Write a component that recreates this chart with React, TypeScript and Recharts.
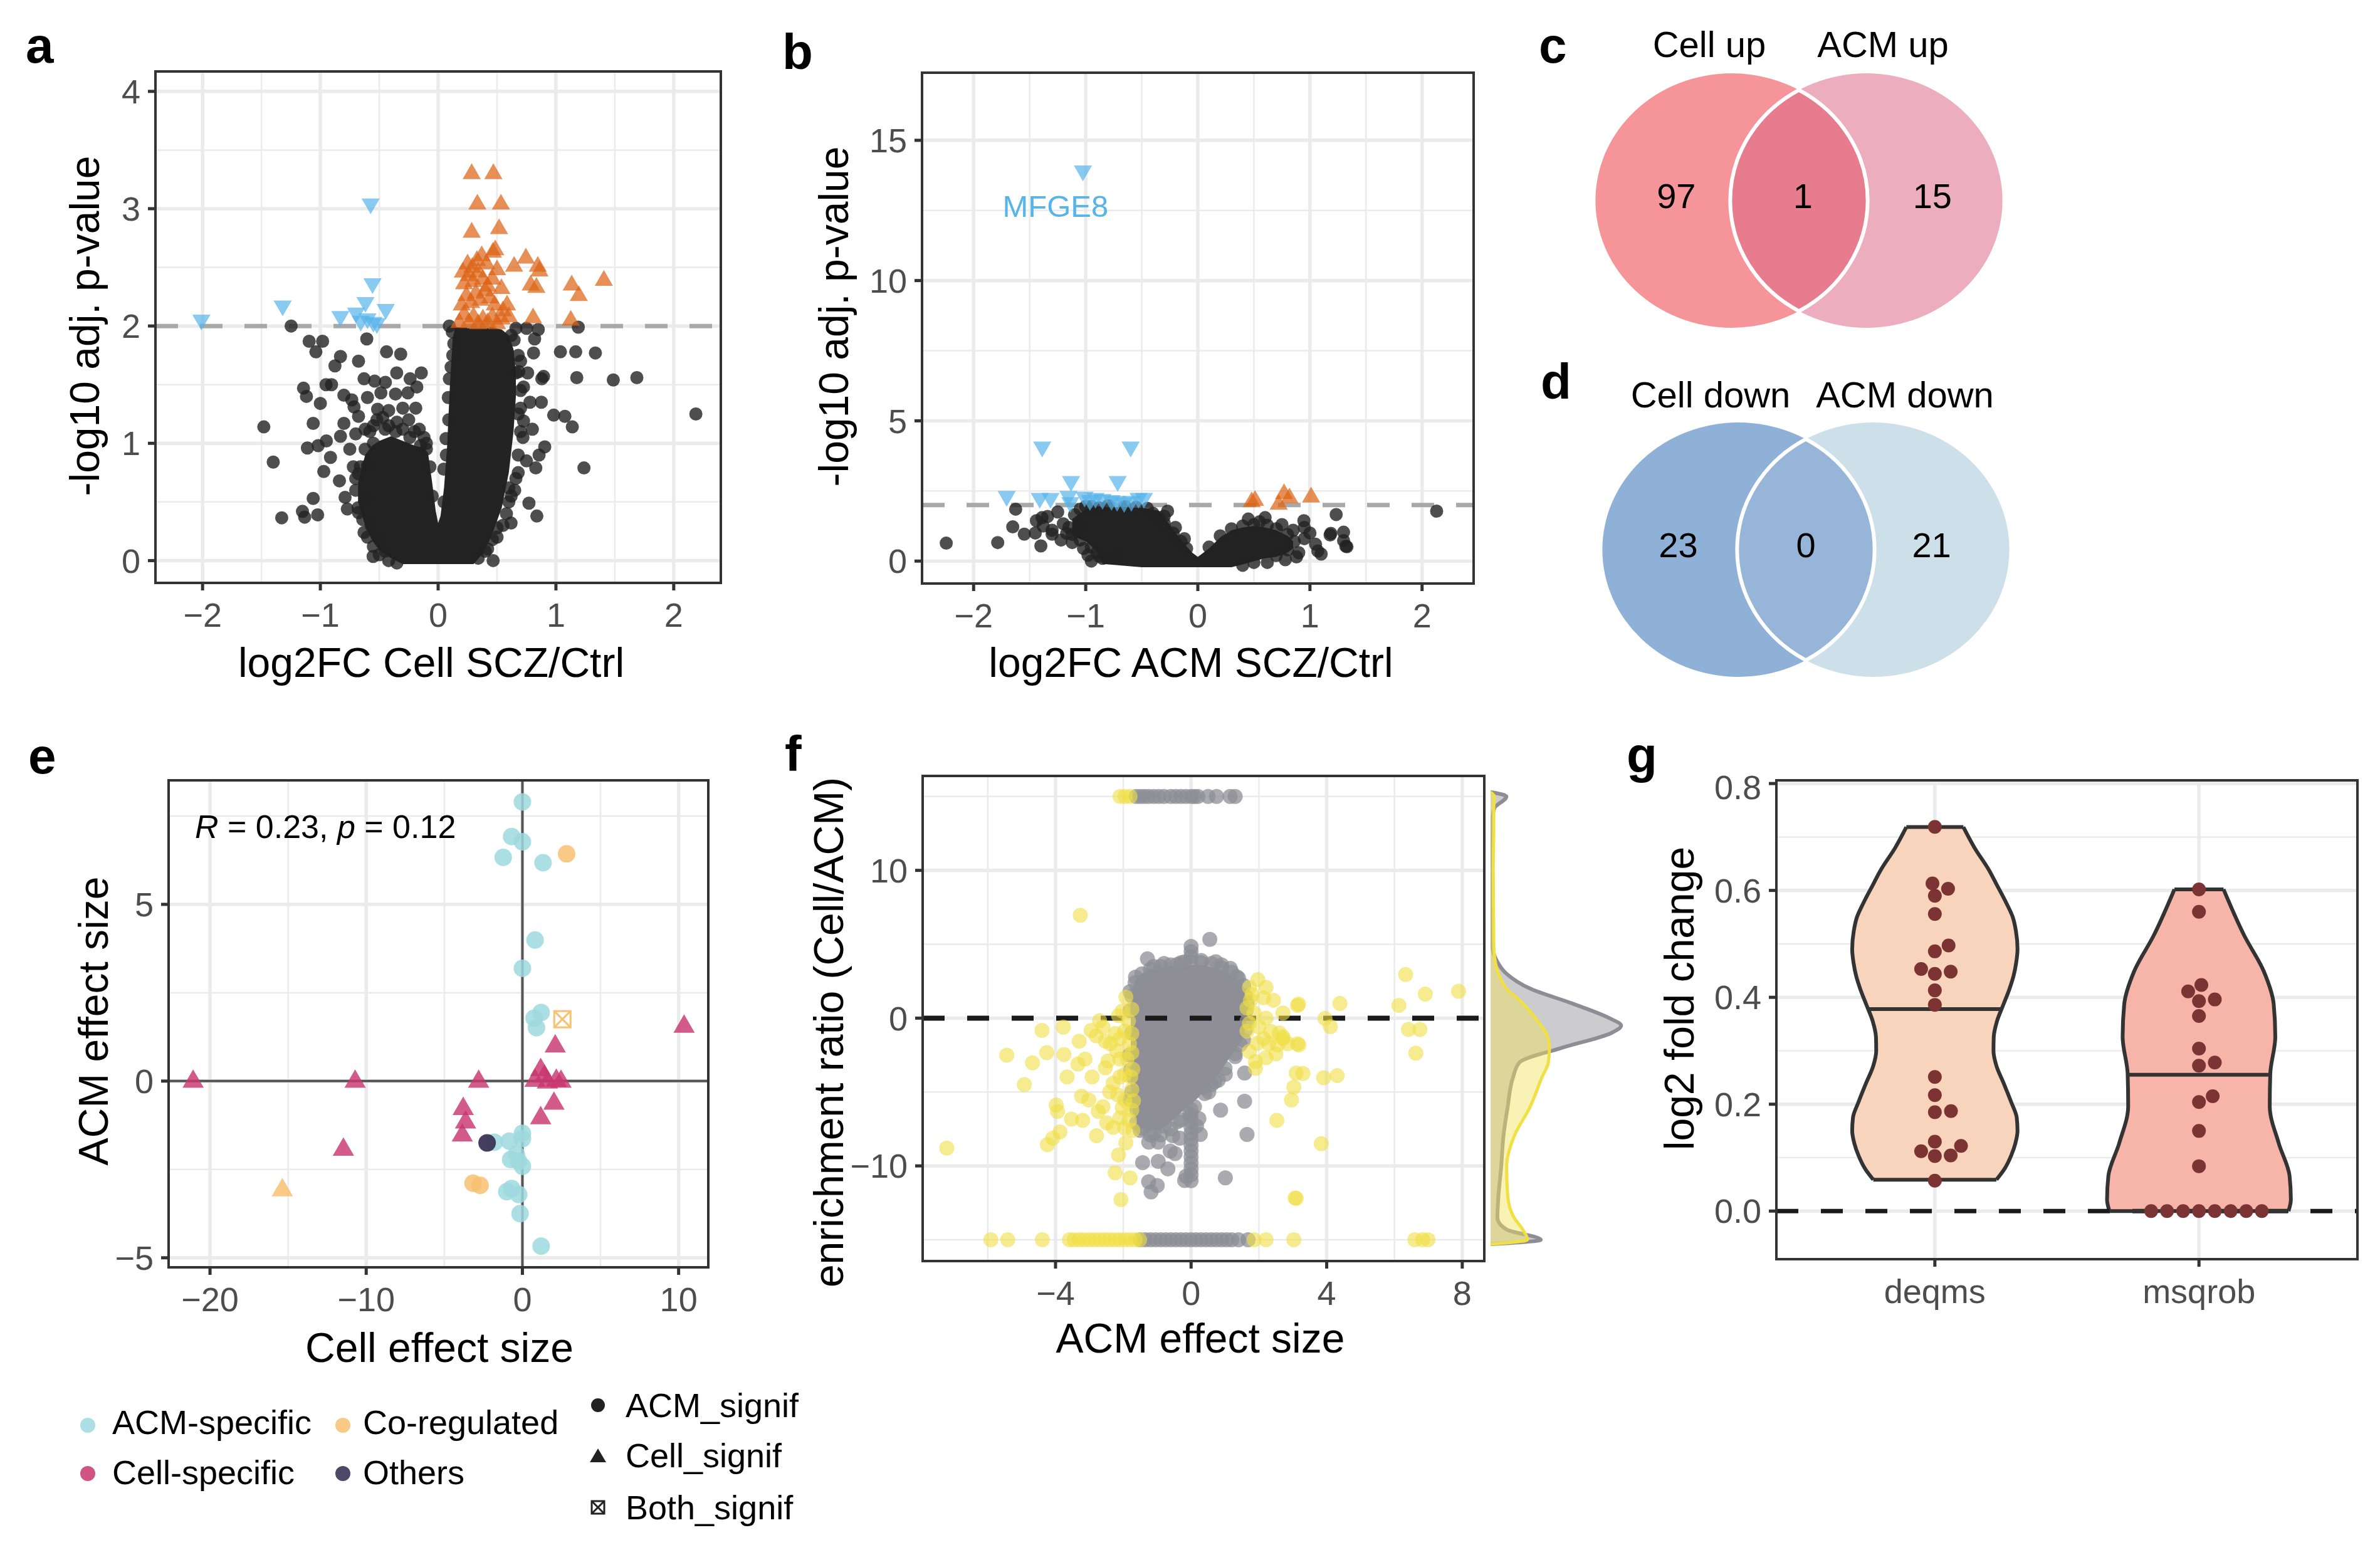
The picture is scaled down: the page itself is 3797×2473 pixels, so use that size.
import React from 'react';
import {
  ComposedChart, ScatterChart, Area, Scatter, XAxis, YAxis, CartesianGrid, ReferenceLine,
} from 'recharts';

const FONT = '"Liberation Sans", Arial, Helvetica, sans-serif';
const GRID = '#EBEBEB';
const ORANGE = '#DD6416';
const BLUE = '#56B4E9';
const CYAN = '#9ED9DE';
const PEACH = '#F7C171';
const MAGENTA = '#C8376F';
const OTHERS = '#3B3457';
const GRAY = '#8E8D95';
const YELLOW = '#F0E044';

// ---------- panel a: log2FC Cell SCZ/Ctrl ----------
// dense centre of the volcano, read as [x, low, high]
const aCore = [
  [-0.68, 0.5, 0.66], [-0.62, 0.3, 0.9], [-0.56, 0.17, 0.98], [-0.5, 0.09, 1.02], [-0.4, 0.02, 1.06],
  [-0.3, -0.03, 1.02], [-0.2, -0.03, 0.98], [-0.12, -0.03, 0.96], [-0.086, -0.03, 0.92], [-0.05, -0.03, 0.66],
  [-0.02, -0.03, 0.42], [0, -0.03, 0.32], [0.02, -0.03, 0.38], [0.05, -0.03, 0.62], [0.076, -0.03, 0.97],
  [0.1, -0.03, 1.5], [0.124, -0.03, 1.9], [0.145, -0.03, 1.99], [0.3, -0.03, 1.99], [0.38, 0.06, 1.99],
  [0.45, 0.2, 1.99], [0.54, 0.45, 1.97], [0.6, 0.75, 1.92], [0.64, 1.1, 1.8], [0.66, 1.4, 1.6],
];
const aBlack = [
  [-1.248, 2.0], [-1.095, 1.87], [-0.981, 1.87], [-1.038, 1.78], [-0.829, 1.74], [-0.876, 1.66], [-0.676, 1.7],
  [-0.606, 1.89], [-0.438, 1.78], [-0.318, 1.76], [-0.352, 1.6], [-0.143, 1.6], [-0.629, 1.55], [-0.539, 1.53],
  [-0.448, 1.52], [-0.238, 1.55], [-0.181, 1.48], [-0.952, 1.5], [-0.905, 1.5], [-1.143, 1.47], [-1.118, 1.4],
  [-1.0, 1.34], [-0.8, 1.41], [-0.733, 1.37], [-0.6, 1.39], [-0.486, 1.43], [-0.362, 1.42], [-0.257, 1.43],
  [-0.19, 1.3], [-0.714, 1.31], [-0.676, 1.23], [-0.514, 1.29], [-1.48, 1.14], [-1.061, 1.17], [-0.8, 1.17],
  [-0.829, 1.06], [-0.949, 1.02], [-1.019, 0.98], [-1.11, 0.96], [-0.914, 0.88], [-1.4, 0.84], [-0.971, 0.76],
  [-0.838, 0.68], [-1.061, 0.53], [-1.152, 0.42], [-1.133, 0.37], [-1.023, 0.39], [-1.328, 0.365], [-0.79, 0.54],
  [-0.771, 0.44], [-0.676, 0.41], [-0.629, 0.24], [-0.552, 0.036], [-0.486, 0.17], [-0.676, 0.74], [-0.6, 0.81],
  [-0.75, 0.95], [-0.7, 1.08], [-0.62, 1.12], [-0.55, 1.15], [-0.45, 1.12], [-0.35, 1.18], [-0.25, 1.2],
  [-0.16, 1.12], [-0.12, 1.05], [-0.7, 0.6], [-0.72, 0.8], [-0.6, 0.52], [-0.57, 0.3], [-0.45, 0.08],
  [-0.42, 1.28], [-0.3, 1.3], [-0.55, 1.0],
  [-0.52, 1.2], [-0.47, 1.22], [-0.42, 1.15], [-0.36, 1.1], [-0.3, 1.12], [-0.24, 1.05], [-0.2, 1.1],
  [-0.15, 0.98], [-0.1, 0.95], [-0.58, 1.1], [-0.62, 0.95], [-0.66, 0.8], [-0.7, 0.7], [-0.68, 0.45],
  [-0.64, 0.35], [-0.6, 0.2], [-0.55, 0.12], [-0.5, 0.05], [-0.42, 0.0], [-0.35, -0.02], [-0.1, 1.0],
  [-0.07, 0.8], [-0.05, 0.55],
  [1.038, 1.78], [1.168, 1.78], [1.177, 1.56], [1.238, 0.79], [0.981, 1.24], [1.076, 1.23], [1.139, 1.14],
  [0.895, 1.57], [0.876, 1.35], [0.838, 0.38], [0.467, 0.0], [0.771, 0.49], [0.619, 0.32], [0.905, 0.97],
  [0.857, 0.9], [0.829, 0.79], [0.819, 1.89], [0.81, 1.77], [1.19, 1.99], [0.095, 2.0], [0.133, 1.85],
  [0.124, 1.75], [0.095, 1.55], [0.086, 1.39], [0.067, 1.04], [0.048, 0.78], [1.335, 1.77], [1.487, 1.54],
  [1.687, 1.56], [2.188, 1.25], [0.725, 1.19], [0.645, 1.88], [0.685, 1.61], [0.725, 1.48], [0.7, 1.3],
  [0.72, 1.05], [0.68, 0.75], [0.65, 0.6], [0.6, 0.5], [0.55, 0.3], [0.5, 0.2], [0.42, 0.1], [0.7, 1.7],
  [0.76, 1.6], [0.78, 1.35], [0.75, 0.85], [0.8, 1.12], [0.66, 1.98], [0.75, 1.98], [0.85, 1.97], [0.88, 1.55],
  [0.6, 0.62], [0.58, 0.4], [0.62, 0.55], [0.66, 0.7], [0.68, 0.9], [0.7, 1.1], [0.68, 1.25], [0.7, 1.45],
  [0.66, 1.6], [0.68, 1.75], [0.62, 1.92], [0.5, 0.28], [0.46, 0.18], [0.4, 0.08], [0.34, 0.02], [0.12, 1.95],
  [0.11, 1.65], [0.09, 1.2], [0.07, 0.9], [0.05, 0.5],
];
const aUp = [
  [0.285, 3.32], [0.469, 3.32], [0.333, 3.06], [0.533, 3.06], [0.285, 2.82], [0.517, 2.85], [0.485, 2.67],
  [0.465, 2.65], [0.745, 2.6], [0.846, 2.53], [0.86, 2.49], [1.407, 2.41], [1.134, 2.37], [1.194, 2.28],
  [0.786, 2.37], [0.834, 2.35], [0.806, 2.09], [1.126, 2.07], [0.645, 2.53], [0.585, 2.2], [0.537, 2.34],
  [0.18, 2.05], [0.22, 2.12], [0.26, 2.05], [0.3, 2.1], [0.34, 2.04], [0.38, 2.08], [0.42, 2.05], [0.46, 2.1],
  [0.5, 2.04], [0.54, 2.08], [0.2, 2.2], [0.24, 2.28], [0.28, 2.22], [0.32, 2.3], [0.36, 2.24], [0.4, 2.32],
  [0.44, 2.26], [0.48, 2.2], [0.22, 2.38], [0.26, 2.45], [0.3, 2.4], [0.34, 2.48], [0.38, 2.42], [0.42, 2.36],
  [0.46, 2.42], [0.5, 2.5], [0.25, 2.55], [0.29, 2.52], [0.33, 2.58], [0.37, 2.62], [0.41, 2.55], [0.21, 2.48],
  [0.55, 2.15], [0.6, 2.1],
];
const aDown = [
  [-2.01, 2.03], [-1.32, 2.15], [-0.573, 3.02], [-0.557, 2.34], [-0.617, 2.18], [-0.697, 2.09], [-0.445, 2.12],
  [-0.83, 2.06], [-0.55, 2.01], [-0.52, 2.0], [-0.657, 2.02], [-0.6, 2.04],
];

// ---------- panel b: log2FC ACM SCZ/Ctrl ----------
const bCore = [
  [-1.12, 0.9, 1.5], [-1.0, 0.7, 1.85], [-0.9, 0.35, 1.95], [-0.85, -0.1, 1.95], [-0.7, -0.15, 1.93],
  [-0.5, -0.22, 1.9], [-0.35, -0.22, 1.8], [-0.25, -0.22, 1.3], [-0.15, -0.22, 0.75], [-0.05, -0.22, 0.3],
  [0, -0.22, 0.15], [0.1, -0.22, 0.45], [0.2, -0.22, 0.85], [0.3, -0.22, 1.1], [0.4, -0.12, 1.2],
  [0.5, 0.0, 1.25], [0.6, 0.1, 1.2], [0.7, 0.15, 1.1], [0.8, 0.3, 0.9], [0.85, 0.45, 0.7],
];
const bBlack = [
  [-2.244, 0.64], [-1.785, 0.66], [-1.625, 1.85], [-1.651, 1.22], [-1.548, 0.96], [-1.4, 0.54], [-1.44, 1.44],
  [-1.39, 1.55], [-1.34, 1.59], [-1.3, 0.96], [-1.3, 1.1], [-1.2, 1.33], [-1.17, 0.99], [-1.12, 0.66],
  [-0.98, 0.21], [-0.88, 0.17], [-0.72, 0.25], [1.234, 1.66], [0.946, 1.44], [1.186, 0.99], [1.3, 1.03],
  [1.3, 0.73], [1.33, 0.51], [1.07, 0.36], [1.1, 0.25], [2.13, 1.78], [-0.27, 1.78], [-0.3, 1.6], [-0.2, 1.2],
  [-0.12, 0.8], [-1.25, 1.75], [-1.05, 1.3], [-1.1, 1.65], [-1.38, 1.25], [-1.45, 1.0], [-1.22, 0.75],
  [-1.02, 0.45], [-0.95, 0.0], [0.9, 0.3], [0.95, 0.8], [1.0, 1.0], [1.05, 0.6], [0.85, 1.1], [0.75, 1.3],
  [0.55, 1.4], [0.45, 1.5], [0.6, 1.55], [0.95, 1.2], [0.88, 0.15], [0.78, 0.05], [0.62, -0.05], [-0.88, 1.9],
  [-1.0, 1.95], [1.18, 0.93], [1.32, 0.53],
  [-1.05, 1.85], [-0.95, 1.95], [-0.8, 1.98], [-0.65, 1.95], [-0.55, 1.92], [-0.45, 1.88], [-0.4, 1.7],
  [-0.35, 1.55], [-0.3, 1.35], [-0.22, 1.0], [-0.15, 0.7], [-0.1, 0.45], [-1.15, 1.2], [-1.12, 0.95],
  [-1.05, 0.75], [-0.95, 0.5], [-0.9, 0.3], [-0.85, 0.1], [0.1, 0.5], [0.2, 0.9], [0.3, 1.15], [0.4, 1.25],
  [0.5, 1.3], [0.62, 1.28], [0.7, 1.15], [0.8, 0.95], [0.86, 0.7], [0.8, 0.4], [0.7, 0.2], [0.5, -0.05],
  [0.4, -0.15],
];
const bUp = [[0.48, 2.2], [0.51, 2.25], [0.769, 2.49], [0.817, 2.34], [1.01, 2.37], [0.721, 2.11]];
const bDown = [
  [-1.025, 13.82], [-1.388, 3.98], [-0.599, 3.98], [-1.131, 2.75], [-0.715, 2.75], [-1.705, 2.22], [-1.41, 2.15],
  [-1.314, 2.15], [-1.154, 2.22], [-1.138, 2.0], [-1.01, 2.19], [-0.962, 2.07], [-0.913, 2.15], [-0.85, 2.11],
  [-0.77, 2.07], [-0.72, 2.04], [-0.657, 2.0], [-0.593, 2.04], [-0.529, 2.15], [-0.481, 2.15],
];
const bLabels = [{ x: -1.27, y: 12.64, label: 'MFGE8' }];

// ---------- panels c, d: venn counts ----------
const vennUpSets = ['Cell up', 'ACM up'];
const vennUpCounts = [97, 1, 15];
const vennDownSets = ['Cell down', 'ACM down'];
const vennDownCounts = [23, 0, 21];

// ---------- panel e: Cell vs ACM effect size ----------
const eAcmCircle = [
  [0, 7.9], [-0.69, 6.92], [0, 6.77], [-1.23, 6.33], [1.32, 6.18], [0.81, 3.99], [0, 3.19], [1.2, 1.94],
  [0.75, 1.78], [0.9, 1.51], [-1.8, -1.73], [-0.84, -1.7], [0, -1.48], [0, -1.63], [-0.39, -2.07],
  [-0.75, -2.22], [-0.24, -2.27], [0, -2.41], [-0.69, -3.04], [-1.0, -3.13], [-0.24, -3.21], [-0.15, -3.75],
  [1.2, -4.67],
];
const eCoCircle = [[2.83, 6.43], [-3.16, -2.89], [-2.71, -2.95]];
const eCoTriangle = [[-15.37, -3.0]];
const eCoBoth = [[2.56, 1.75]];
const eOthersCircle = [[-2.26, -1.75]];
const eCellTriangle = [
  [-21.08, 0.07], [-10.71, 0.07], [-2.8, 0.07], [-11.46, -1.85], [-3.79, -0.7], [-3.64, -1.08], [-3.85, -1.45],
  [10.35, 1.63], [2.1, 1.07], [1.17, 0.4], [0.81, 0.1], [1.41, 0.22], [2.17, 0.1], [2.47, 0.07], [2.02, -0.55],
  [1.17, -0.96], [1.6, 0.05],
];

// ---------- panel f: enrichment ratio vs ACM effect size ----------
const fCore = [
  [-1.78, -4.5, 1.2], [-1.7, -6.5, 2.2], [-1.55, -7.2, 2.8], [-1.3, -7.6, 3.2], [-1.0, -7.6, 3.4],
  [-0.7, -7.2, 3.5], [-0.4, -6.6, 3.6], [-0.1, -6.0, 3.6], [0.2, -5.4, 3.6], [0.5, -4.6, 3.5],
  [0.8, -3.8, 3.3], [1.1, -2.8, 3.0], [1.35, -2.0, 2.7], [1.55, -1.2, 2.1], [1.62, -0.3, 1.0],
];
const fGray = [
  [0.552, 5.33], [-1.288, 4.01], [-0.403, 3.63], [0.729, 3.81], [1.154, 3.37], [-1.64, 2.77], [-1.39, 2.42],
  [1.578, -3.72], [1.578, -5.62], [0.87, -6.23], [1.649, -7.87], [1.01, -10.81], [0.27, -7.87], [-0.19, -10.99],
  [-1.253, -11.07], [-1.18, -11.76], [-1.0, -11.33], [-1.43, -9.78], [-0.686, -10.2], [-0.97, -9.7],
  [-1.25, -8.39], [-0.97, -8.39], [-0.545, -7.96], [-0.333, -8.13], [0.16, -7.3], [0.23, -6.8], [1.01, -3.8],
  [0.38, -4.7], [0.52, -5.0], [-1.607, -7.09], [-1.43, -7.44], [-1.1, -7.8], [-0.8, -7.3], [-0.616, -9.0],
  [-0.474, -9.17], [-0.15, -10.7], [1.3, -2.6], [1.45, -1.8], [-1.8, 1.8], [-1.75, -1.0], [-1.7, -4.0],
  [-1.8, -5.5], [-1.3, -6.9], [0.9, 3.6], [0.3, 3.9], [-0.2, 3.8], [-0.8, 3.7], [-1.1, 3.5], [1.35, 2.8],
  [1.6, 1.5], [1.62, 0.5], [1.6, -0.8], [0.6, -4.5], [0.8, -4.2], [-0.4, -7.0], [-0.05, -6.5],
  [-1.8, 0.5], [-1.82, -2.5], [-1.78, -3.5], [-1.75, -5.0], [-1.6, -6.2], [-1.5, -7.6], [-1.2, -7.9],
  [-0.9, -7.9], [-0.6, -7.5], [-0.3, -6.9], [0.1, -6.0], [0.4, -5.1], [0.7, -4.3], [1.0, -3.4], [1.3, -2.4],
  [1.55, -1.5], [1.65, -0.2], [1.65, 1.0], [1.55, 2.2], [1.4, 2.7], [1.2, 3.1], [0.9, 3.4], [0.6, 3.7],
  [0.3, 3.75], [-0.3, 3.75], [-0.6, 3.6], [-0.9, 3.5], [-1.2, 3.3], [-1.45, 3.0], [-1.65, 2.4], [-1.75, 1.5],
  // the column of proteins with ACM effect size 0
  [0, 4.85], [0, 4.5], [0, 4.15], [0, 3.8], [0, -6.2], [0, -6.6], [0, -7.0], [0, -7.4], [0, -7.8], [0, -8.2],
  [0, -8.6], [0, -9.0], [0, -9.4], [0, -9.8], [0, -10.2], [0, -10.6], [0, -11.0],
];
const fGrayTopX = [-1.62, -1.5, -1.38, -1.25, -1.1, -0.95, -0.8, -0.6, -0.45, -0.3, -0.15, 0, 0.1, 0.2, 0.5, 0.75, 1.15, 1.3];
const fGrayBottomX = [-1.5, -1.35, -1.2, -1.05, -0.9, -0.75, -0.6, -0.45, -0.3, -0.15, 0, 0.15, 0.3, 0.45, 0.6, 0.75, 0.9, 1.05, 1.2, 1.4, 1.68];
const fYellowTopX = [-2.1, -1.95, -1.8];
const fYellowBottomX = [-5.91, -5.41, -4.39, -3.59, -3.45, -3.3, -3.15, -3.0, -2.85, -2.7, -2.55, -2.4, -2.25, -2.1, -1.95, -1.8, -1.65, -1.52, 1.86, 2.21, 3.03, 6.6, 6.83, 6.99];
const fYellow = [
  [-3.27, 6.96], [-4.4, -0.83], [-3.77, -0.61], [-2.7, -0.17], [-2.95, -0.83], [-3.3, -1.56], [-5.44, -2.51],
  [-4.26, -2.34], [-3.75, -2.46], [-4.68, -3.03], [-4.92, -4.5], [-3.66, -3.98], [-2.92, -3.98], [-2.53, -3.37],
  [-3.34, -3.11], [-3.13, -2.77], [-3.98, -5.88], [-3.94, -6.31], [-3.53, -6.83], [-3.2, -6.92], [-3.23, -5.28],
  [-3.02, -5.54], [-2.74, -6.31], [-2.49, -7.09], [-3.87, -7.7], [-4.08, -8.13], [-4.24, -8.56], [-2.79, -7.96],
  [-1.925, -8.44], [-2.14, -9.26], [-2.24, -10.47], [-1.8, -10.81], [-2.07, -12.28], [-7.21, -8.79],
  [-1.925, 1.42], [-2.03, 0.48], [-2.14, 0.17], [-2.24, -1.04], [-2.1, -1.38], [-2.38, -1.73], [-2.53, -1.56],
  [-1.96, -0.87], [-1.75, -1.04], [-1.82, -1.73], [-2.1, -2.77], [-1.89, -2.77], [-1.75, -2.34], [-1.96, -3.8],
  [-2.1, -3.98], [-1.78, -3.98], [-1.72, -3.46], [-2.17, -5.19], [-1.96, -5.54], [-2.03, -6.06], [-1.75, -4.84],
  [-1.75, -6.23], [-2.1, -6.75], [-1.82, -6.92], [-1.96, -7.44], [-2.6, -6.0], [-2.4, -5.0], [-2.3, -4.4],
  [-2.45, -2.9], [-2.2, -2.2], [-2.8, -1.2], [-2.6, -0.6], [-1.85, -0.2], [-1.75, 0.6], [-1.7, -5.6],
  [-1.72, -7.6], [-2.3, -7.4],
  [1.97, 2.6], [2.21, 2.08], [2.43, 1.21], [2.14, 1.38], [1.72, 2.08], [1.65, 0.69], [1.86, 0.35], [2.21, 0.0],
  [1.72, -0.35], [1.65, -0.87], [2.14, -1.38], [2.29, -1.73], [2.5, -2.42], [2.71, -1.38], [2.85, -1.73],
  [3.14, -1.73], [1.9, -2.94], [2.21, -2.68], [1.72, -2.25], [2.71, 0.35], [3.17, 0.95], [3.1, -3.72],
  [3.03, -4.67], [2.96, -5.54], [2.53, -6.92], [3.1, -12.2], [6.33, 2.95], [6.91, 1.63], [7.89, 1.82],
  [4.39, 0.99], [3.14, 0.86], [6.13, 0.86], [6.41, -0.77], [6.75, -0.77], [6.63, -2.37], [3.95, -0.03],
  [4.11, -0.58], [3.18, -1.82], [3.3, -3.75], [3.91, -4.03], [4.31, -3.89], [3.84, -8.5], [3.07, -12.17],
  [1.8, 1.6], [1.95, -1.7], [2.0, -0.6], [1.75, 1.2], [2.35, -0.9], [1.9, -3.4], [2.6, -1.0], [2.71, -1.27],
  [2.55, -1.82],
];
// marginal densities along the enrichment ratio
const densRatio = [15.3, 15.0, 14.2, 13, 10, 5, 4, 3, 2, 1, 0, -0.5, -1, -2, -3, -4, -6, -8, -10, -12, -13.5, -14.3, -15, -15.3];
const densGray = [0, 0.0148, 0.0035, 0.001, 0.0005, 0.0015, 0.005, 0.015, 0.037, 0.076, 0.111, 0.122, 0.113, 0.067, 0.027, 0.021, 0.016, 0.012, 0.01, 0.0074, 0.0064, 0.0148, 0.047, 0];
const densYellow = [0, 0.0035, 0.003, 0.003, 0.0025, 0.003, 0.004, 0.0074, 0.015, 0.03, 0.042, 0.047, 0.052, 0.055, 0.054, 0.048, 0.037, 0.022, 0.015, 0.016, 0.022, 0.03, 0.0345, 0];

// ---------- panel g: log2 fold change per method ----------
const gMethods = ['deqms', 'msqrob'];
const dqY = [0.0587, 0.08, 0.104, 0.127, 0.15, 0.175, 0.204, 0.24, 0.272, 0.3, 0.326, 0.355, 0.387, 0.415, 0.44, 0.465, 0.49, 0.524, 0.55, 0.577, 0.61, 0.638, 0.68, 0.7185];
const dqHalf = [0.233, 0.265, 0.289, 0.305, 0.313, 0.31, 0.289, 0.26, 0.233, 0.222, 0.223, 0.235, 0.26, 0.282, 0.298, 0.308, 0.313, 0.307, 0.295, 0.27, 0.235, 0.205, 0.15, 0.108];
const msY = [0, 0.021, 0.066, 0.127, 0.196, 0.257, 0.326, 0.387, 0.448, 0.516, 0.602];
const msHalf = [0.339, 0.348, 0.343, 0.302, 0.268, 0.27, 0.289, 0.283, 0.246, 0.171, 0.093];
const gMedians = [0.378, 0.255];
const gDots = [
  [1, 0.719], [0.991, 0.613], [1.05, 0.603], [1, 0.59], [1, 0.556], [1.052, 0.497], [1, 0.486], [0.948, 0.453],
  [1.06, 0.448], [1, 0.444], [1, 0.413], [1, 0.386], [1, 0.251], [1, 0.217], [1, 0.185], [1.061, 0.187],
  [1, 0.13], [0.948, 0.112], [1.099, 0.122], [1, 0.103], [1.06, 0.104], [1, 0.057],
  [2, 0.602], [2, 0.56], [1.959, 0.411], [2.009, 0.423], [2, 0.393], [2.06, 0.396], [2, 0.365], [2, 0.304],
  [2.06, 0.278], [2, 0.272], [2, 0.204], [2.052, 0.215], [2, 0.15], [2, 0.084], [1.819, 0], [1.879, 0],
  [1.94, 0], [2, 0], [2.06, 0], [2.12, 0], [2.179, 0], [2.238, 0],
];

// ---------- layout (pixel boxes of each panel) ----------
const A_BOX = { l: 248, t: 114, r: 1150, b: 930 };
const B_BOX = { l: 1471, t: 116, r: 2351, b: 931 };
const E_BOX = { l: 269, t: 1245, r: 1130, b: 2022 };
const F_BOX = { l: 1472, t: 1238, r: 2368, b: 2012 };
const G_BOX = { l: 2834, t: 1245, r: 3761, b: 2009 };
const DENS_L = 2378;
const DENS_R = 2600;
const PAD = 20;
const YW = 150;
const XH = 110;

const frame = (b: any) => ({
  pos: { position: 'absolute' as const, left: b.l - YW - PAD, top: b.t - PAD },
  width: b.r - b.l + YW + 2 * PAD,
  height: b.b - b.t + XH + 2 * PAD,
  margin: { top: PAD, right: PAD, bottom: PAD, left: PAD },
});

const pts = (a: number[][]) => a.map(([x, y]) => ({ x, y }));
const minus = (v: any) => String(v).replace('-', '\u2212');
const TICK = { fill: '#4D4D4D', fontSize: 54, fontFamily: FONT };
const TL = { stroke: '#333333', strokeWidth: 5 };
const NO_MARGIN = { top: 0, right: 0, bottom: 0, left: 0 };

const dot = (r: number, fill: string, op: number) => (p: any) =>
  <circle cx={p.cx} cy={p.cy} r={r} fill={fill} fillOpacity={op} />;
const tri = (s: number, fill: string, op: number, down = false) => (p: any) => {
  const h = s * 0.866, w = s / 2;
  const d = down
    ? `M${p.cx - w},${p.cy - h / 2}L${p.cx + w},${p.cy - h / 2}L${p.cx},${p.cy + h / 2}Z`
    : `M${p.cx - w},${p.cy + h / 2}L${p.cx + w},${p.cy + h / 2}L${p.cx},${p.cy - h / 2}Z`;
  return <path d={d} fill={fill} fillOpacity={op} />;
};
const boxCross = (s: number, color: string) => (p: any) => (
  <g stroke={color} strokeWidth={3} fill="none">
    <rect x={p.cx - s / 2} y={p.cy - s / 2} width={s} height={s} />
    <path d={`M${p.cx - s / 2},${p.cy - s / 2}L${p.cx + s / 2},${p.cy + s / 2}M${p.cx + s / 2},${p.cy - s / 2}L${p.cx - s / 2},${p.cy + s / 2}`} />
  </g>
);

function Border({ box }: any) {
  return (
    <div style={{
      position: 'absolute', left: box.l - 2, top: box.t - 2, width: box.r - box.l + 4, height: box.b - box.t + 4,
      border: '4px solid #333333', boxSizing: 'border-box',
    }} />
  );
}

function grids(xMajor: number[], xMinor: number[], yMajor: number[], yMinor: number[]) {
  return [
    <CartesianGrid key="gmin" stroke={GRID} strokeWidth={2.5} vertical={xMinor.length > 0} horizontal={yMinor.length > 0}
      verticalValues={xMinor} horizontalValues={yMinor} />,
    <CartesianGrid key="gmaj" stroke={GRID} strokeWidth={5.5} verticalValues={xMajor} horizontalValues={yMajor} />,
  ];
}

function Volcano({ box, xDomain, yDomain, yTicks, yMinor, core, black, up, down, labels }: any) {
  const f = frame(box);
  const rows = core.map(([x, lo, hi]: number[]) => ({ x, r: [lo, hi] }));
  const xTicks = [-2, -1, 0, 1, 2];
  return (
    <div style={f.pos}>
      <ComposedChart width={f.width} height={f.height} margin={f.margin} data={rows}>
        {grids(xTicks, [-1.5, -0.5, 0.5, 1.5], yTicks, yMinor)}
        <XAxis type="number" dataKey="x" domain={xDomain} ticks={xTicks} allowDataOverflow height={XH}
          tick={TICK} tickLine={TL} axisLine={false} tickSize={12} tickMargin={20} tickFormatter={minus} />
        <YAxis type="number" domain={yDomain} ticks={yTicks} allowDataOverflow width={YW}
          tick={TICK} tickLine={TL} axisLine={false} tickSize={12} tickMargin={12} tickFormatter={minus} />
        <Area type="linear" dataKey="r" fill="#232323" fillOpacity={1} stroke="none" isAnimationActive={false} dot={false} activeDot={false} />
        <Scatter data={pts(black)} dataKey="y" shape={dot(10.5, '#222222', 0.8)} isAnimationActive={false} />
        <Scatter data={pts(up)} dataKey="y" shape={tri(29, ORANGE, 0.72)} isAnimationActive={false} />
        <Scatter data={pts(down)} dataKey="y" shape={tri(29, BLUE, 0.7, true)} isAnimationActive={false} />
        {labels && (
          <Scatter data={labels} dataKey="y" isAnimationActive={false}
            shape={(p: any) => (
              <text x={p.cx} y={p.cy} textAnchor="middle" dominantBaseline="central" fontSize={49}
                fontFamily={FONT} fill={BLUE}>{p.payload.label}</text>
            )} />
        )}
        <ReferenceLine y={2} stroke="#A8A8A8" strokeWidth={7} strokeDasharray="36 35" />
      </ComposedChart>
    </div>
  );
}

const VW = 860;
const VH = 430;
const PXU = VW / 4; // pixels per unit, x domain [-2,2], y domain [-1,1]
const VENN_CX = [-0.5, 0.5];
const VENN_RX = 1.01;
const VENN_RY = 0.944;

function Venn({ left, top, counts, labelX, colors }: any) {
  const rx = VENN_RX * PXU, ry = VENN_RY * PXU;
  const half = VENN_CX[1] * PXU;
  const h = ry * Math.sqrt(1 - (half / rx) ** 2);
  const circles = VENN_CX.map((x, i) => ({ x, y: 0, fill: colors[i] }));
  const nums = labelX.map((x: number, i: number) => ({ x, y: 0, label: String(counts[i]) }));
  return (
    <div style={{ position: 'absolute', left, top }}>
      <ScatterChart width={VW} height={VH} margin={NO_MARGIN}>
        <XAxis type="number" dataKey="x" domain={[-2, 2]} hide />
        <YAxis type="number" dataKey="y" domain={[-1, 1]} hide />
        <Scatter data={circles} isAnimationActive={false}
          shape={(p: any) => <ellipse cx={p.cx} cy={p.cy} rx={rx} ry={ry} fill={p.payload.fill} />} />
        <Scatter data={[{ x: 0, y: 0 }]} isAnimationActive={false}
          shape={(p: any) => (
            <path d={`M${p.cx},${p.cy - h}A${rx},${ry} 0 0 0 ${p.cx},${p.cy + h}A${rx},${ry} 0 0 0 ${p.cx},${p.cy - h}Z`}
              fill={colors[2]} stroke="#ffffff" strokeWidth={6} />
          )} />
        <Scatter data={nums} isAnimationActive={false}
          shape={(p: any) => (
            <text x={p.cx} y={p.cy + 12} textAnchor="middle" fontSize={56} fontFamily={FONT} fill="#000">{p.payload.label}</text>
          )} />
      </ScatterChart>
    </div>
  );
}

function PanelE() {
  const f = frame(E_BOX);
  return (
    <div style={f.pos}>
      <ScatterChart width={f.width} height={f.height} margin={f.margin}>
        {grids([-20, -10, 0, 10], [-15, -5, 5], [-5, 0, 5], [-2.5, 2.5, 7.5])}
        <XAxis type="number" dataKey="x" domain={[-22.65, 11.9]} ticks={[-20, -10, 0, 10]} allowDataOverflow height={XH}
          tick={TICK} tickLine={TL} axisLine={false} tickSize={12} tickMargin={20} tickFormatter={minus} />
        <YAxis type="number" dataKey="y" domain={[-5.27, 8.51]} ticks={[-5, 0, 5]} allowDataOverflow width={YW}
          tick={TICK} tickLine={TL} axisLine={false} tickSize={12} tickMargin={12} tickFormatter={minus} />
        <ReferenceLine x={0} stroke="#555555" strokeWidth={4} />
        <ReferenceLine y={0} stroke="#555555" strokeWidth={4} />
        <Scatter data={pts(eAcmCircle)} shape={dot(14, CYAN, 0.85)} isAnimationActive={false} />
        <Scatter data={pts(eCoCircle)} shape={dot(14, PEACH, 0.85)} isAnimationActive={false} />
        <Scatter data={pts(eCoTriangle)} shape={tri(34, PEACH, 0.85)} isAnimationActive={false} />
        <Scatter data={pts(eCoBoth)} shape={boxCross(26, PEACH)} isAnimationActive={false} />
        <Scatter data={pts(eOthersCircle)} shape={dot(14, OTHERS, 0.95)} isAnimationActive={false} />
        <Scatter data={pts(eCellTriangle)} shape={tri(34, MAGENTA, 0.82)} isAnimationActive={false} />
      </ScatterChart>
    </div>
  );
}

function PanelF() {
  const f = frame(F_BOX);
  const rows = fCore.map(([x, lo, hi]) => ({ x, r: [lo, hi] }));
  const gray = [...fGray, ...fGrayTopX.map((x) => [x, 15]), ...fGrayBottomX.map((x) => [x, -15])];
  const yellow = [...fYellow, ...fYellowTopX.map((x) => [x, 15]), ...fYellowBottomX.map((x) => [x, -15])];
  return (
    <div style={f.pos}>
      <ComposedChart width={f.width} height={f.height} margin={f.margin} data={rows}>
        {grids([-4, 0, 4, 8], [-6, -2, 2, 6], [-10, 0, 10], [-15, -5, 5, 15])}
        <XAxis type="number" dataKey="x" domain={[-7.92, 8.65]} ticks={[-4, 0, 4, 8]} allowDataOverflow height={XH}
          tick={TICK} tickLine={TL} axisLine={false} tickSize={12} tickMargin={20} tickFormatter={minus} />
        <YAxis type="number" domain={[-16.44, 16.39]} ticks={[-10, 0, 10]} allowDataOverflow width={YW}
          tick={TICK} tickLine={TL} axisLine={false} tickSize={12} tickMargin={12} tickFormatter={minus} />
        <Area type="monotone" dataKey="r" fill="#8F8E96" fillOpacity={1} stroke="none" isAnimationActive={false} dot={false} activeDot={false} />
        <Scatter data={pts(gray)} dataKey="y" shape={dot(12, GRAY, 0.75)} isAnimationActive={false} />
        <Scatter data={pts(yellow)} dataKey="y" shape={dot(12, YELLOW, 0.6)} isAnimationActive={false} />
        <ReferenceLine y={0} stroke="#1A1A1A" strokeWidth={8} strokeDasharray="35 36" />
      </ComposedChart>
    </div>
  );
}

function Density() {
  const w = F_BOX.b - F_BOX.t;
  const h = DENS_R - DENS_L;
  const rows = densRatio.map((y, i) => ({ y, gray: densGray[i], yellow: densYellow[i] }));
  // drawn horizontally, then turned a quarter so the ratio runs up the page
  return (
    <div style={{ position: 'absolute', left: DENS_R, top: F_BOX.t, width: w, height: h, transform: 'rotate(90deg)', transformOrigin: '0 0' }}>
      <ComposedChart width={w} height={h} data={rows} margin={NO_MARGIN}>
        <XAxis type="number" dataKey="y" domain={[-16.44, 16.39]} reversed hide allowDataOverflow />
        <YAxis type="number" domain={[0, 0.13]} hide allowDataOverflow />
        <Area type="monotone" dataKey="gray" fill={GRAY} fillOpacity={0.45} stroke={GRAY} strokeWidth={6} isAnimationActive={false} dot={false} activeDot={false} />
        <Area type="monotone" dataKey="yellow" fill="#F2E35A" fillOpacity={0.45} stroke={YELLOW} strokeWidth={5} isAnimationActive={false} dot={false} activeDot={false} />
      </ComposedChart>
    </div>
  );
}

const G_YDOMAIN = [-0.09, 0.806];
const G_YTICKS = [0, 0.2, 0.4, 0.6, 0.8];

// one violin, drawn along a horizontal value axis and turned to stand upright
function Violin({ ys, half, center, fill, withGrid }: any) {
  const w = G_BOX.b - G_BOX.t;
  const h = G_BOX.r - G_BOX.l;
  const rows = ys.map((y: number, i: number) => ({ y, r: [center - half[i], center + half[i]] }));
  return (
    <div style={{ position: 'absolute', left: G_BOX.l, top: G_BOX.b, width: w, height: h, transform: 'rotate(-90deg)', transformOrigin: '0 0' }}>
      <ComposedChart width={w} height={h} data={rows} margin={NO_MARGIN}>
        {withGrid && (
          <CartesianGrid stroke={GRID} strokeWidth={2.5} horizontal={false} verticalValues={[0.1, 0.3, 0.5, 0.7]} />
        )}
        {withGrid && (
          <CartesianGrid stroke={GRID} strokeWidth={5.5} verticalValues={G_YTICKS} horizontalValues={[1, 2]} />
        )}
        <XAxis type="number" dataKey="y" domain={G_YDOMAIN} hide allowDataOverflow />
        <YAxis type="number" domain={[0.4, 2.6]} reversed hide allowDataOverflow />
        <Area type="monotone" dataKey="r" fill={fill} fillOpacity={1} stroke="#333333" strokeWidth={6}
          isAnimationActive={false} dot={false} activeDot={false} />
      </ComposedChart>
    </div>
  );
}

function PanelG() {
  const f = frame(G_BOX);
  const segs = [
    [1, gMedians[0], 0.25], [2, gMedians[1], 0.27],
    [1, dqY[dqY.length - 1], dqHalf[dqHalf.length - 1]], [1, dqY[0], dqHalf[0]],
    [2, msY[msY.length - 1], msHalf[msHalf.length - 1]], [2, msY[0], msHalf[0]],
  ];
  return (
    <>
      <Violin ys={dqY} half={dqHalf} center={1} fill="#F8D4BD" withGrid />
      <Violin ys={msY} half={msHalf} center={2} fill="#F6B5A8" />
      <div style={f.pos}>
        <ScatterChart width={f.width} height={f.height} margin={f.margin}>
          <XAxis type="number" dataKey="x" domain={[0.4, 2.6]} ticks={[1, 2]} allowDataOverflow height={XH}
            tick={TICK} tickLine={TL} axisLine={false} tickSize={12} tickMargin={20}
            tickFormatter={(v: number) => gMethods[v - 1]} />
          <YAxis type="number" dataKey="y" domain={G_YDOMAIN} ticks={G_YTICKS} allowDataOverflow width={YW}
            tick={TICK} tickLine={TL} axisLine={false} tickSize={12} tickMargin={12}
            tickFormatter={(v: number) => v.toFixed(1)} />
          <ReferenceLine y={0} stroke="#1A1A1A" strokeWidth={7} strokeDasharray="35 36" />
          {segs.map(([c, y, hw], i) => (
            <ReferenceLine key={i} segment={[{ x: c - hw, y }, { x: c + hw, y }]} stroke="#333333" strokeWidth={6} />
          ))}
          <Scatter data={pts(gDots)} shape={dot(11, '#7B3333', 1)} isAnimationActive={false} />
        </ScatterChart>
      </div>
    </>
  );
}

function Txt({ x, y, size = 66, anchor = 'middle', rotate = false, bold = false, children, fill = '#000' }: any) {
  return (
    <text x={rotate ? 0 : x} y={rotate ? 0 : y} transform={rotate ? `translate(${x},${y}) rotate(-90)` : undefined}
      textAnchor={anchor} fontSize={size} fontWeight={bold ? 'bold' : 'normal'} fontFamily={FONT} fill={fill}>
      {children}
    </text>
  );
}

function Overlay() {
  return (
    <svg width={3797} height={2473} style={{ position: 'absolute', left: 0, top: 0, pointerEvents: 'none' }}>
      <Txt x={41} y={100} size={80} bold anchor="start">a</Txt>
      <Txt x={1248} y={110} size={80} bold anchor="start">b</Txt>
      <Txt x={2455} y={100} size={80} bold anchor="start">c</Txt>
      <Txt x={2458} y={636} size={80} bold anchor="start">d</Txt>
      <Txt x={45} y={1234} size={80} bold anchor="start">e</Txt>
      <Txt x={1252} y={1230} size={80} bold anchor="start">f</Txt>
      <Txt x={2595} y={1232} size={80} bold anchor="start">g</Txt>

      <Txt x={688} y={1080}>log2FC Cell SCZ/Ctrl</Txt>
      <Txt x={158} y={520} rotate>-log10 adj. p-value</Txt>
      <Txt x={1900} y={1080}>log2FC ACM SCZ/Ctrl</Txt>
      <Txt x={1353} y={505} rotate>-log10 adj. p-value</Txt>
      <Txt x={701} y={2173}>Cell effect size</Txt>
      <Txt x={172} y={1629} rotate>ACM effect size</Txt>
      <Txt x={1915} y={2158}>ACM effect size</Txt>
      <Txt x={1345} y={1647} rotate>enrichment ratio (Cell/ACM)</Txt>
      <Txt x={2702} y={1593} rotate>log2 fold change</Txt>

      <Txt x={2727} y={91} size={58}>{vennUpSets[0]}</Txt>
      <Txt x={3004} y={91} size={58}>{vennUpSets[1]}</Txt>
      <Txt x={2729} y={650} size={58}>{vennDownSets[0]}</Txt>
      <Txt x={3039} y={650} size={58}>{vennDownSets[1]}</Txt>

      <text x={311} y={1337} fontSize={52} fontFamily={FONT}>
        <tspan fontStyle="italic">R</tspan> = 0.23, <tspan fontStyle="italic">p</tspan> = 0.12
      </text>

      {/* legend of panel e */}
      <circle cx={140} cy={2274} r={12} fill={CYAN} fillOpacity={0.85} />
      <Txt x={179} y={2288} size={54} anchor="start">ACM-specific</Txt>
      <circle cx={547} cy={2274} r={12} fill={PEACH} fillOpacity={0.85} />
      <Txt x={579} y={2288} size={54} anchor="start">Co-regulated</Txt>
      <circle cx={140} cy={2351} r={12} fill={MAGENTA} fillOpacity={0.85} />
      <Txt x={179} y={2368} size={54} anchor="start">Cell-specific</Txt>
      <circle cx={547} cy={2351} r={12} fill={OTHERS} fillOpacity={0.9} />
      <Txt x={579} y={2368} size={54} anchor="start">Others</Txt>
      <circle cx={954} cy={2242} r={11} fill="#222" />
      <Txt x={998} y={2261} size={54} anchor="start">ACM_signif</Txt>
      <path d="M941,2333L967,2333L954,2311Z" fill="#222" />
      <Txt x={998} y={2341} size={54} anchor="start">Cell_signif</Txt>
      <g stroke="#222" strokeWidth={3} fill="none">
        <rect x={944} y={2395} width={20} height={20} />
        <path d="M944,2395L964,2415M964,2395L944,2415" />
      </g>
      <Txt x={998} y={2424} size={54} anchor="start">Both_signif</Txt>
    </svg>
  );
}

export default function App() {
  return (
    <div style={{ position: 'absolute', left: 0, top: 0, width: 3797, height: 2473, background: '#fff', overflow: 'hidden', fontFamily: FONT }}>
      <Volcano box={A_BOX} xDomain={[-2.4, 2.4]} yDomain={[-0.19, 4.17]} yTicks={[0, 1, 2, 3, 4]} yMinor={[0.5, 1.5, 2.5, 3.5]}
        core={aCore} black={aBlack} up={aUp} down={aDown} />
      <Volcano box={B_BOX} xDomain={[-2.46, 2.46]} yDomain={[-0.8, 17.41]} yTicks={[0, 5, 10, 15]} yMinor={[2.5, 7.5, 12.5]}
        core={bCore} black={bBlack} up={bUp} down={bDown} labels={bLabels} />
      <Venn left={2870 - VW / 2} top={320 - VH / 2} counts={vennUpCounts} labelX={[-0.91, 0.03, 0.99]}
        colors={['#F5959A', '#ECADBF', '#E77C8E']} />
      <Venn left={2881 - VW / 2} top={877 - VH / 2} counts={vennDownCounts} labelX={[-0.947, 0, 0.933]}
        colors={['#8FB1D7', '#CDE0EA', '#97B5D8']} />
      <PanelE />
      <PanelF />
      <Density />
      <PanelG />
      <Border box={A_BOX} />
      <Border box={B_BOX} />
      <Border box={E_BOX} />
      <Border box={F_BOX} />
      <Border box={G_BOX} />
      <Overlay />
    </div>
  );
}
